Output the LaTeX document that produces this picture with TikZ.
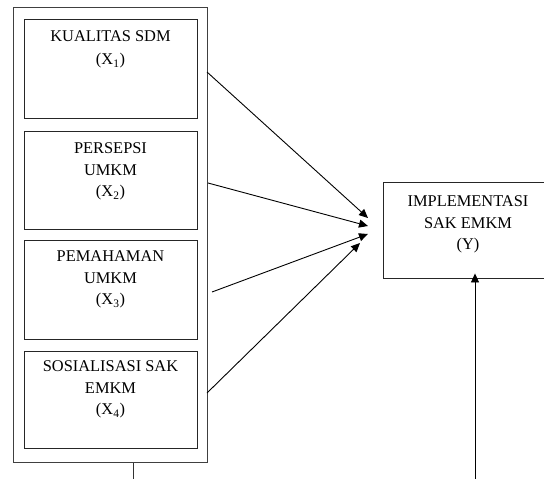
\documentclass[tikz,border=0pt]{standalone}
\usepackage{fontspec}
\setmainfont{Liberation Serif}
\usetikzlibrary{arrows.meta}
\tikzset{
  vbox/.style={draw=black!85, line width=0.9pt, inner sep=0pt},
  outerbox/.style={draw=black!75, line width=1pt},
  arr/.style={line width=0.9pt, -{Triangle[length=9pt,width=8pt]}},
  plain/.style={line width=0.9pt, draw=black!80},
}
\newcommand{\boxtext}[4]{\parbox[c][#2][t]{#1}{\centering\fontsize{16.4}{21.5}\selectfont\vspace*{#3}#4\par}}
\begin{document}
\begin{tikzpicture}[x=1pt,y=-1pt]
\useasboundingbox (0,0) rectangle (544,479);
% outer frame
\node[outerbox, minimum width=194pt, minimum height=455pt, inner sep=0pt] (outer) at (110,235) {};
% variable boxes
\node[vbox] (b1) at (110.5,68.5) {\boxtext{173pt}{99pt}{12pt}{KUALITAS SDM\\[1.5pt](X\textsubscript{1})}};
\node[vbox] (b2) at (110.5,180) {\boxtext{173pt}{98pt}{12pt}{PERSEPSI\\UMKM\\(X\textsubscript{2})}};
\node[vbox] (b3) at (110.5,289.5) {\boxtext{173pt}{99pt}{11pt}{PEMAHAMAN\\UMKM\\(X\textsubscript{3})}};
\node[vbox] (b4) at (110.5,399.5) {\boxtext{173pt}{97pt}{10pt}{SOSIALISASI SAK\\EMKM\\(X\textsubscript{4})}};
% dependent box
\node[vbox] (y) at (468,230) {\boxtext{170pt}{96pt}{14pt}{IMPLEMENTASI\\SAK EMKM\\(Y)}};
% arrow coordinates
\coordinate (s1) at (207,72);
\coordinate (s2) at (208,183);
\coordinate (s3) at (212,292);
\coordinate (s4) at (207,393);
\coordinate (e1) at (368,218);
\coordinate (e2) at (368,226);
\coordinate (e3) at (368,234);
\coordinate (e4) at (360,243);
\draw[arr] (s1) -- (e1);
\draw[arr] (s2) -- (e2);
\draw[arr] (s3) -- (e3);
\draw[arr] (s4) -- (e4);
% bottom lines
\coordinate (d1) at (133,479);
\coordinate (d2) at (475,479);
\draw[plain] (outer.south -| d1) -- (d1);
\draw[arr] (d2) -- ([yshift=5pt]y.south -| d2);
\end{tikzpicture}
\end{document}
